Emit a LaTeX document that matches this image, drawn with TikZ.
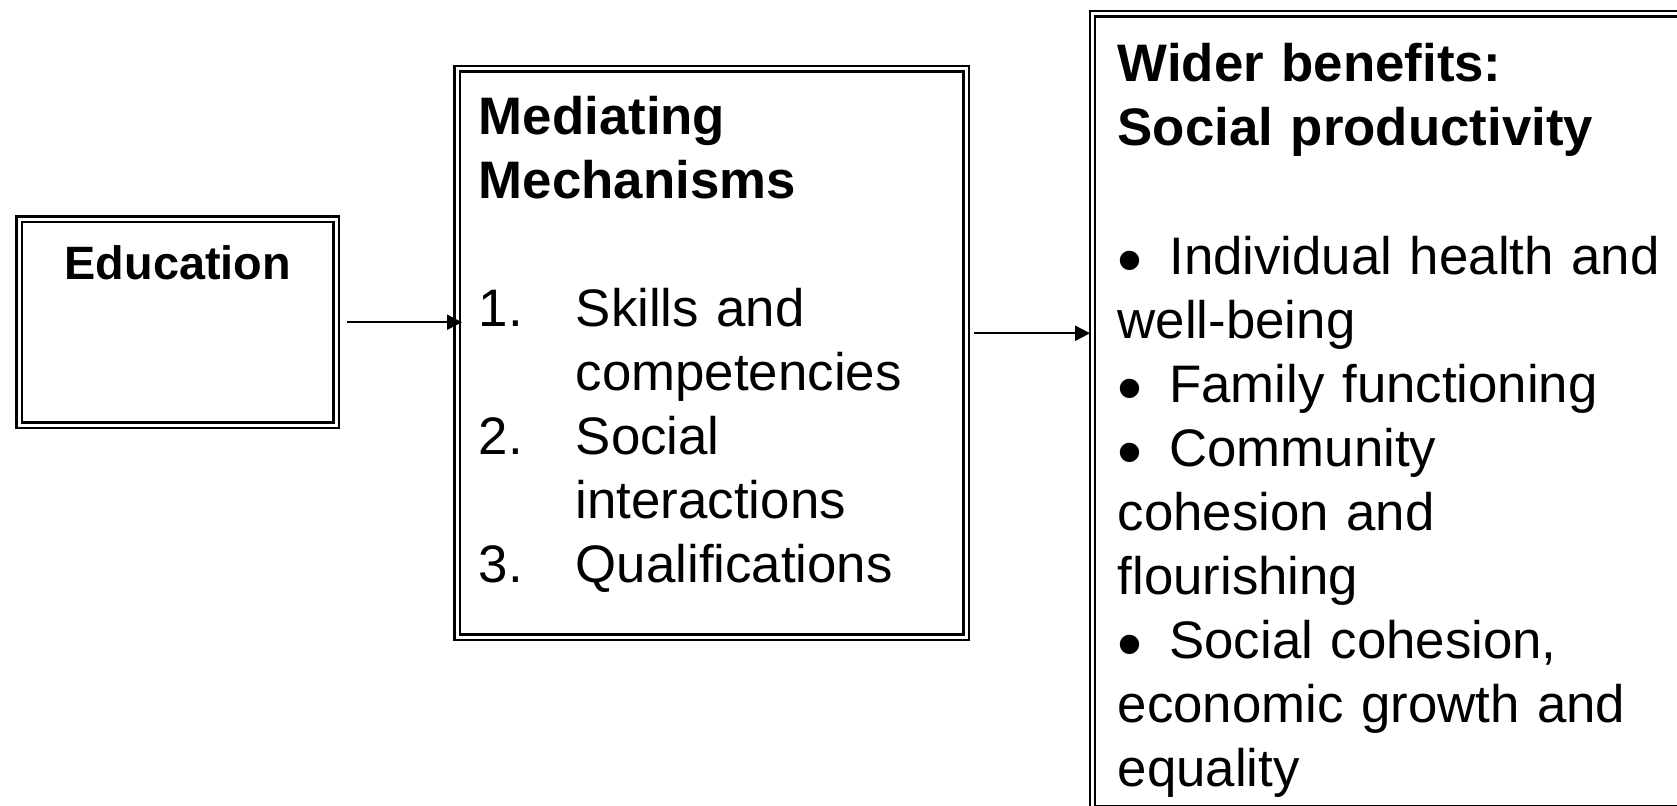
\documentclass[tikz,border=0pt]{standalone}
\usepackage{graphicx}
\usepackage{fontspec}
\setmainfont{Liberation Sans}
\usetikzlibrary{arrows.meta,positioning}

\newcommand{\blt}{\makebox[12.9pt][l]{\smash{\raisebox{-2.6pt}{\scalebox{1.35}{\textbullet}}}}}

\begin{document}
\begin{tikzpicture}[
	x = 0.25pt, y = -0.25pt,
	> = {Triangle[length=3.75pt,width=3.75pt]},
	dbl/.style = {double, line width=0.6pt, double distance=0.75pt},
	box/.style = {draw, dbl, inner ysep=0pt, anchor=north west, align=left},
	every edge/.style = {draw, line width=0.5pt}
	]
	\useasboundingbox (0,0) rectangle (1677,805);
	\node[box, align=center, inner xsep=0pt, text width=79.25pt,
		text height=15pt, text depth=36.5pt,
		font=\fontsize{11.7}{14}\selectfont\bfseries] (E) at (18,218) {Education};
	\node[box, inner xsep=5.4pt, text width=116.45pt,
		text height=16.4pt, text depth=125.75pt,
		font=\fontsize{13.2}{16}\selectfont] (M) at (456,67.5)
		{\textbf{Mediating}\\\textbf{Mechanisms}\\[16pt]
		\makebox[24.25pt][l]{1.}Skills and\\
		\makebox[24.25pt][l]{}competencies\\
		\makebox[24.25pt][l]{2.}Social\\
		\makebox[24.25pt][l]{}interactions\\
		\makebox[24.25pt][l]{3.}Qualifications};
	\node[box, draw=none, inner xsep=6pt, text width=170pt,
		text height=16.6pt, text depth=181.5pt,
		font=\fontsize{13.2}{16}\selectfont] (W) at (1092.5,13.7)
		{\textbf{Wider benefits:}\\\textbf{Social productivity}\\[16.25pt]
		\blt Individual health and\\
		well-being\\
		\blt Family functioning\\
		\blt Community\\
		cohesion and\\
		flourishing\\
		\blt Social cohesion,\\
		economic growth and\\
		equality};
	\draw[dbl] (W.north east) -- (W.north west) -- (W.south west) -- (W.south east);
	\coordinate (m) at ([yshift=4.94pt]M.east);
	\path[->]
	(E.east) edge[shorten <=2.5pt, shorten >=-1.5pt] (E.east -| M.west)
	(m) edge[shorten <=1.6pt, shorten >=0.6pt] (m -| W.west);
\end{tikzpicture}
\end{document}
